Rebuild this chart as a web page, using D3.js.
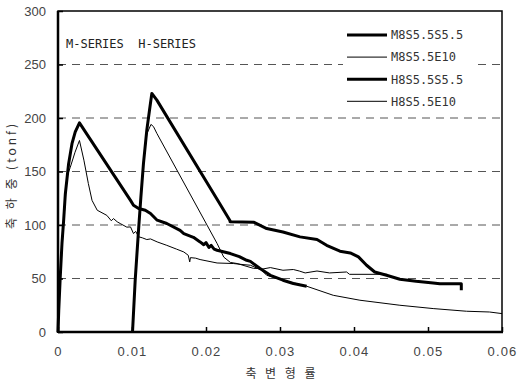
<!DOCTYPE html>
<html>
<head>
<meta charset="utf-8">
<script src="https://cdn.jsdelivr.net/npm/d3@7"></script>
<style>
  html, body { margin: 0; padding: 0; background: #fff; }
  svg { display: block; }
  text { white-space: pre; }
</style>
</head>
<body>
<svg id="chart" width="517" height="384"></svg>
<script>
// Axial load vs. axial strain for M- and H-series specimens
const xTicks = [0, 0.01, 0.02, 0.03, 0.04, 0.05, 0.06];
const xTickLabels = ["0", "0.01", "0.02", "0.03", "0.04", "0.05", "0.06"];
const yTicks = [0, 50, 100, 150, 200, 250, 300];
const yTickLabels = ["0", "50", "100", "150", "200", "250", "300"];
const gridValues = [50, 100, 150, 200, 250];

const seriesNames = ["M8S5.5S5.5", "M8S5.5E10", "H8S5.5S5.5", "H8S5.5E10"];
const seriesHeavy = [true, false, true, false];

// [strain, load(tonf)]
const m8s55s55 = [
  [0, 0], [0.0001, 20], [0.0003, 51], [0.00054, 83], [0.00076, 104], [0.00099, 129],
  [0.00143, 157], [0.00189, 176], [0.00233, 187], [0.0029, 195.5], [0.0098, 123],
  [0.0102, 118.5], [0.0109, 115.4], [0.0118, 113.8],
  [0.0125, 110.8], [0.0134, 104.5], [0.0147, 101.4], [0.0165, 95], [0.017, 92],
  [0.0183, 88.5], [0.0192, 84.2], [0.0197, 81.5], [0.0200, 83.5], [0.0204, 79],
  [0.0207, 81], [0.0211, 77.5], [0.0215, 76.4], [0.0233, 73.3], [0.0245, 70.5],
  [0.0255, 67], [0.026, 66], [0.0273, 59.3], [0.0287, 53], [0.0304, 48.4],
  [0.0318, 45.3], [0.0336, 42.8]
];
const m8s55e10 = [
  [0, 0], [0.0001, 20], [0.0003, 50], [0.0006, 85], [0.0009, 115], [0.0012, 145],
  [0.00166, 154], [0.0023, 168], [0.0029, 179], [0.0035, 160.6], [0.0041, 138.8],
  [0.0046, 123], [0.0053, 113.8], [0.0066, 109], [0.0072, 104], [0.0075, 106],
  [0.008, 103], [0.0084, 101.4], [0.0093, 98], [0.0098, 98.2], [0.0102, 92],
  [0.0105, 94], [0.0109, 89], [0.0114, 88], [0.012, 86.4], [0.0125, 87],
  [0.0134, 84.2], [0.0147, 81], [0.016, 77.5], [0.017, 74.8], [0.0176, 71.7],
  [0.0178, 65.5], [0.0179, 69.5], [0.0186, 69], [0.0192, 67.7], [0.0215, 64.5],
  [0.0237, 64], [0.025, 63], [0.026, 62.4], [0.0273, 58.4], [0.0287, 60.2],
  [0.0304, 57.7], [0.0318, 58.4], [0.0326, 57], [0.0334, 55.2], [0.035, 57],
  [0.0367, 55.2], [0.039, 56.1], [0.0394, 53.9], [0.0445, 53.9]
];
const h8s55s55 = [
  [0.01007, 0], [0.01043, 48.3], [0.01088, 95], [0.0112, 126], [0.01155, 157.5],
  [0.012, 188.7], [0.01236, 207], [0.01268, 223], [0.01336, 216.7], [0.02168, 122],
  [0.02325, 104], [0.02325, 103], [0.0265, 102.5], [0.0282, 96.7], [0.0304, 93.5],
  [0.0327, 88.9], [0.035, 86.4], [0.0363, 81], [0.0381, 75.5], [0.0395, 73.9],
  [0.0406, 70.2], [0.0417, 62.4], [0.0428, 56.1], [0.0444, 53], [0.0462, 49.3],
  [0.0484, 47.4], [0.0507, 45.8], [0.0516, 45], [0.0545, 45], [0.0545, 39]
];
const h8s55e10 = [
  [0.01007, 0], [0.01043, 48.3], [0.01088, 95], [0.0112, 126], [0.01155, 157],
  [0.012, 185], [0.01256, 194], [0.0129, 192], [0.01336, 185.6], [0.0215, 82.7],
  [0.0224, 70], [0.0233, 65], [0.0242, 64], [0.0264, 59.5], [0.0273, 59.3],
  [0.0282, 53], [0.0304, 48.4], [0.0336, 42.8], [0.0372, 34.3], [0.0408, 29.7],
  [0.0462, 25], [0.0507, 21.9], [0.0552, 19.4], [0.0583, 18.7], [0.06, 17.2]
];
const seriesData = [m8s55s55, m8s55e10, h8s55s55, h8s55e10];

const svg = d3.select("#chart");
const plotLeft = 58, plotRight = 502, plotTop = 11, plotBottom = 332;

const x = d3.scaleLinear().domain([0, 0.06]).range([plotLeft, plotRight]);
const y = d3.scaleLinear().domain([0, 300]).range([plotBottom, plotTop]);

const tickFont = "'Liberation Sans', Arial, sans-serif";
const monoFont = "'DejaVu Sans Mono', 'Liberation Mono', monospace";
const krFont = "'Noto Sans CJK KR', sans-serif";

// dashed grid lines
svg.append("g")
  .selectAll("line")
  .data(gridValues)
  .join("line")
  .attr("x1", plotLeft).attr("x2", plotRight)
  .attr("y1", d => y(d)).attr("y2", d => y(d))
  .attr("stroke", "#555")
  .attr("stroke-width", 1)
  .attr("stroke-dasharray", "8,6");

// series curves
const line = d3.line().x(d => x(d[0])).y(d => y(d[1]));
svg.append("g")
  .selectAll("path")
  .data(seriesData)
  .join("path")
  .attr("d", d => line(d))
  .attr("fill", "none")
  .attr("stroke", "#000")
  .attr("stroke-width", (d, i) => seriesHeavy[i] ? 3 : 1)
  .attr("stroke-linejoin", "round");

// axes with inward ticks
const xAxis = d3.axisBottom(x)
  .tickValues(xTicks)
  .tickFormat((d, i) => xTickLabels[i])
  .tickSize(-5)
  .tickPadding(15);
const gx = svg.append("g").attr("transform", `translate(0,${plotBottom})`).call(xAxis);

const yAxis = d3.axisLeft(y)
  .tickValues(yTicks)
  .tickFormat((d, i) => yTickLabels[i])
  .tickSize(-5)
  .tickPadding(12);
const gy = svg.append("g").attr("transform", `translate(${plotLeft},0)`).call(yAxis);

[gx, gy].forEach(g => {
  g.select(".domain").remove();
  g.selectAll(".tick line").attr("stroke", "#000").attr("stroke-width", 1.5);
  g.selectAll(".tick text")
    .attr("fill", "#444")
    .style("font-family", tickFont)
    .style("font-size", "13px");
});
gx.selectAll(".tick text").style("letter-spacing", "1.2px");

// frame
svg.append("rect")
  .attr("x", plotLeft).attr("y", plotTop)
  .attr("width", plotRight - plotLeft).attr("height", plotBottom - plotTop)
  .attr("fill", "none").attr("stroke", "#000").attr("stroke-width", 1.5);
svg.append("line")
  .attr("x1", plotLeft).attr("x2", plotLeft).attr("y1", plotTop).attr("y2", plotBottom + 1)
  .attr("stroke", "#000").attr("stroke-width", 2.5);
svg.append("line")
  .attr("x1", plotLeft).attr("x2", plotRight + 1).attr("y1", plotBottom).attr("y2", plotBottom)
  .attr("stroke", "#000").attr("stroke-width", 2.5);

// series caption
svg.append("text")
  .attr("x", 66).attr("y", 48)
  .attr("fill", "#222")
  .style("font-family", monoFont)
  .style("font-size", "12px")
  .text("M-SERIES  H-SERIES");

// legend
const legend = svg.append("g");
legend.append("rect")
  .attr("x", 343).attr("y", 24).attr("width", 129).attr("height", 86)
  .attr("fill", "#fff");
const rows = legend.selectAll("g.row")
  .data(seriesNames)
  .join("g")
  .attr("class", "row")
  .attr("transform", (d, i) => `translate(0,${35 + i * 22.1})`);
rows.append("line")
  .attr("x1", 347).attr("x2", 387).attr("y1", 0).attr("y2", 0)
  .attr("stroke", "#000")
  .attr("stroke-width", (d, i) => seriesHeavy[i] ? 3 : 1);
rows.append("text")
  .attr("x", 391).attr("y", 0).attr("dy", "0.36em")
  .attr("fill", "#333")
  .style("font-family", monoFont)
  .style("font-size", "12px")
  .text(d => d);

// axis titles
svg.append("text")
  .attr("x", 282).attr("y", 378)
  .attr("text-anchor", "middle")
  .attr("fill", "#333")
  .style("font-family", krFont)
  .style("font-size", "12px")
  .style("letter-spacing", "3px")
  .text("축 변 형 률");

svg.append("text")
  .attr("transform", "translate(16,175) rotate(-90)")
  .attr("text-anchor", "middle")
  .attr("fill", "#333")
  .style("font-family", krFont)
  .style("font-size", "12px")
  .style("letter-spacing", "3px")
  .text("축 하 중 (tonf)");
</script>
</body>
</html>
